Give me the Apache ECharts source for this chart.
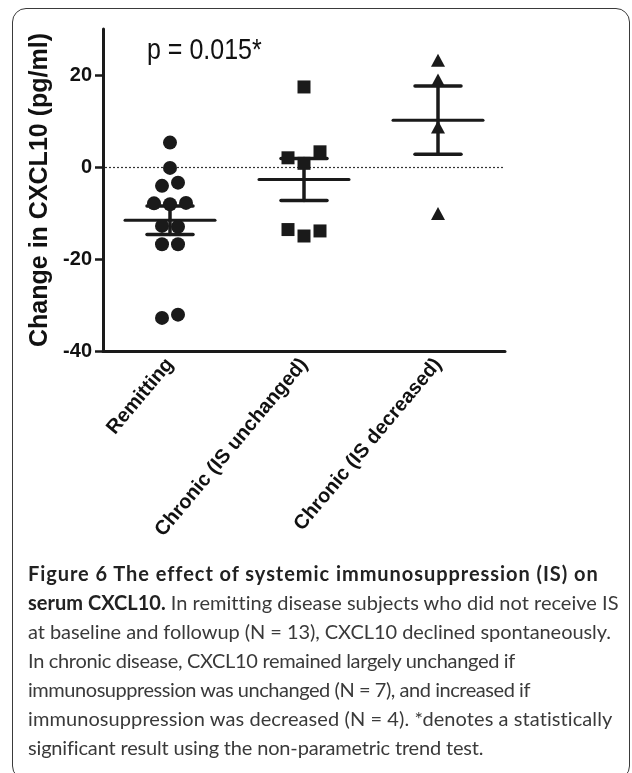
<!DOCTYPE html>
<html>
<head>
<meta charset="utf-8">
<script src="https://cdn.jsdelivr.net/npm/echarts@6/dist/echarts.min.js"></script>
<style>
  html, body { margin: 0; padding: 0; background: #fff; }
  #frame { position: absolute; left: 12px; top: 8px; width: 618px; height: 772px; border: 1.5px solid #3a3a3a; border-radius: 14px; box-sizing: border-box; }
  #chart { position: absolute; left: 0; top: 0; width: 632px; height: 560px; }
  #caption { position: absolute; left: 28px; top: 559px; font-family: 'Lato', 'Open Sans', sans-serif; font-size: 20px; line-height: 29px; color: #3a3a3a; white-space: nowrap; }
  #caption div { display: block; }
  #caption span.l { display: inline-block; }
  #caption b { color: #222; }
</style>
</head>
<body>
<div id="frame"></div>
<div id="chart"></div>
<div id="caption">
  <div><span class="l" data-w="570"><b>Figure 6 The effect of systemic immunosuppression (IS) on</b></span></div>
  <div><span class="l" data-w="590"><b>serum CXCL10.</b> In remitting disease subjects who did not receive IS</span></div>
  <div><span class="l" data-w="583">at baseline and followup (N = 13), CXCL10 declined spontaneously.</span></div>
  <div><span class="l" data-w="487">In chronic disease, CXCL10 remained largely unchanged if</span></div>
  <div><span class="l" data-w="502">immunosuppression was unchanged (N = 7), and increased if</span></div>
  <div><span class="l" data-w="585">immunosuppression was decreased (N = 4). *denotes a statistically</span></div>
  <div><span class="l" data-w="455">significant result using the non-parametric trend test.</span></div>
</div>
<script>
// ---- data ----
const categories = ['Remitting', 'Chronic (IS unchanged)', 'Chronic (IS decreased)'];
const remitting = [5.3, -0.2, -4.1, -3.4, -7.9, -8.1, -7.8, -12.8, -13.0, -16.8, -16.8, -32.8, -32.1];
const chronicUnchanged = [17.4, 2.0, 0.8, 3.3, -13.6, -15.0, -13.9];
const chronicDecreased = [23.2, 18.9, 8.7, -10.1];
const yTicks = [-40, -20, 0, 20];
const referenceLine = [0];
const yMin = -40, yMax = 30;
const yTitle = 'Change in CXCL10 (pg/ml)';
const pLabel = 'p = 0.015*';

// ---- layout ----
const GRID = { left: 103, top: 29, width: 402, height: 322 };
const FONT = "'Liberation Sans', Arial, sans-serif";
const INK = '#1a1a1a';

// fit caption lines to the reference line lengths
document.querySelectorAll('#caption span.l').forEach(el => {
  const target = +el.dataset.w;
  const w = el.getBoundingClientRect().width;
  const n = el.textContent.length;
  el.style.letterSpacing = ((target - w) / n).toFixed(3) + 'px';
});

function stats(a) {
  const n = a.length;
  const m = a.reduce((s, x) => s + x, 0) / n;
  const sd = Math.sqrt(a.reduce((s, x) => s + (x - m) * (x - m), 0) / (n - 1));
  return [m, sd / Math.sqrt(n)];
}

// horizontal spreading of overlapping points (beeswarm-like rows)
function swarm(values, minGap, step) {
  const pxPerUnit = GRID.height / (yMax - yMin);
  const idx = values.map((v, i) => i).sort((a, b) => values[b] - values[a]);
  const clusters = [];
  let cur = [idx[0]];
  for (let k = 1; k < idx.length; k++) {
    if ((values[idx[k - 1]] - values[idx[k]]) * pxPerUnit < minGap) cur.push(idx[k]);
    else { clusters.push(cur); cur = [idx[k]]; }
  }
  clusters.push(cur);
  const off = new Array(values.length).fill(0);
  clusters.forEach(c => {
    c.sort((a, b) => a - b);
    c.forEach((i, j) => { off[i] = (j - (c.length - 1) / 2) * step; });
  });
  return off;
}

const groups = [remitting, chronicUnchanged, chronicDecreased];
const symbols = ['circle', 'rect', 'triangle'];
const sizes = [14, 13, [14, 13]];

const scatterSeries = groups.map((vals, gi) => {
  const off = swarm(vals, 14, 16);
  return {
    type: 'scatter',
    symbol: symbols[gi],
    symbolSize: sizes[gi],
    itemStyle: { color: INK, opacity: 1 },
    z: 5,
    silent: true,
    data: vals.map((v, i) => ({ value: [gi, v], symbolOffset: [off[i], 0] }))
  };
});

const statData = groups.map((vals, gi) => { const s = stats(vals); return [gi, s[0], s[1]]; });

const option = {
  animation: false,
  backgroundColor: 'transparent',
  grid: { left: GRID.left, top: GRID.top, width: GRID.width, height: GRID.height, containLabel: false },
  xAxis: {
    type: 'category',
    data: categories,
    boundaryGap: true,
    axisLine: { onZero: false, lineStyle: { color: INK, width: 3 } },
    axisTick: { alignWithLabel: true, length: 9, lineStyle: { color: INK, width: 2.5 } },
    axisLabel: { rotate: 50, interval: 0, margin: 10, color: '#111', fontFamily: FONT, fontWeight: 'bold', fontSize: 20 },
    splitLine: { show: false }
  },
  yAxis: {
    type: 'value',
    min: yMin, max: yMax, interval: 20,
    name: yTitle,
    nameLocation: 'middle',
    nameGap: 48,
    nameTextStyle: { color: '#111', fontFamily: FONT, fontWeight: 'bold', fontSize: 25 },
    axisLine: { show: true, onZero: false, lineStyle: { color: INK, width: 3 } },
    axisTick: { show: true, length: 8, customValues: yTicks, lineStyle: { color: INK, width: 2.5 } },
    axisLabel: { customValues: yTicks, margin: 11, color: '#111', fontFamily: FONT, fontWeight: 'bold', fontSize: 20 },
    splitLine: { show: false }
  },
  graphic: [{
    type: 'text', left: 147, top: 36, scaleY: 1.2,
    style: { text: pLabel, fill: '#111', font: '25px ' + FONT }
  }],
  series: [{
    // dotted reference line at y = 0
    type: 'custom',
    z: 1,
    silent: true,
    data: referenceLine.map(v => [0, v]),
    renderItem: function (params, api) {
      const cs = params.coordSys;
      const y = Math.round(api.coord([0, api.value(1)])[1]) + 0.5;
      return {
        type: 'line',
        shape: { x1: cs.x + 2, y1: y, x2: cs.x + cs.width, y2: y },
        style: { stroke: '#333', lineWidth: 1.2, lineDash: [2, 2] }
      };
    }
  }, {
    type: 'custom',
    z: 3,
    silent: true,
    data: statData,
    renderItem: function (params, api) {
      const c = api.value(0), m = api.value(1), se = api.value(2);
      const pm = api.coord([c, m]);
      const pt = api.coord([c, m + se]);
      const pb = api.coord([c, m - se]);
      const x = pm[0];
      const st = (w) => ({ stroke: INK, lineWidth: w, lineCap: 'round' });
      return {
        type: 'group',
        children: [
          { type: 'line', shape: { x1: x - 45, y1: pm[1], x2: x + 45, y2: pm[1] }, style: st(3) },
          { type: 'line', shape: { x1: x, y1: pt[1], x2: x, y2: pb[1] }, style: st(3.5) },
          { type: 'line', shape: { x1: x - 23, y1: pt[1], x2: x + 23, y2: pt[1] }, style: st(3.5) },
          { type: 'line', shape: { x1: x - 23, y1: pb[1], x2: x + 23, y2: pb[1] }, style: st(3.5) }
        ]
      };
    }
  }].concat(scatterSeries)
};

const chart = echarts.init(document.getElementById('chart'), null, { renderer: 'canvas' });
chart.setOption(option);
</script>
</body>
</html>
